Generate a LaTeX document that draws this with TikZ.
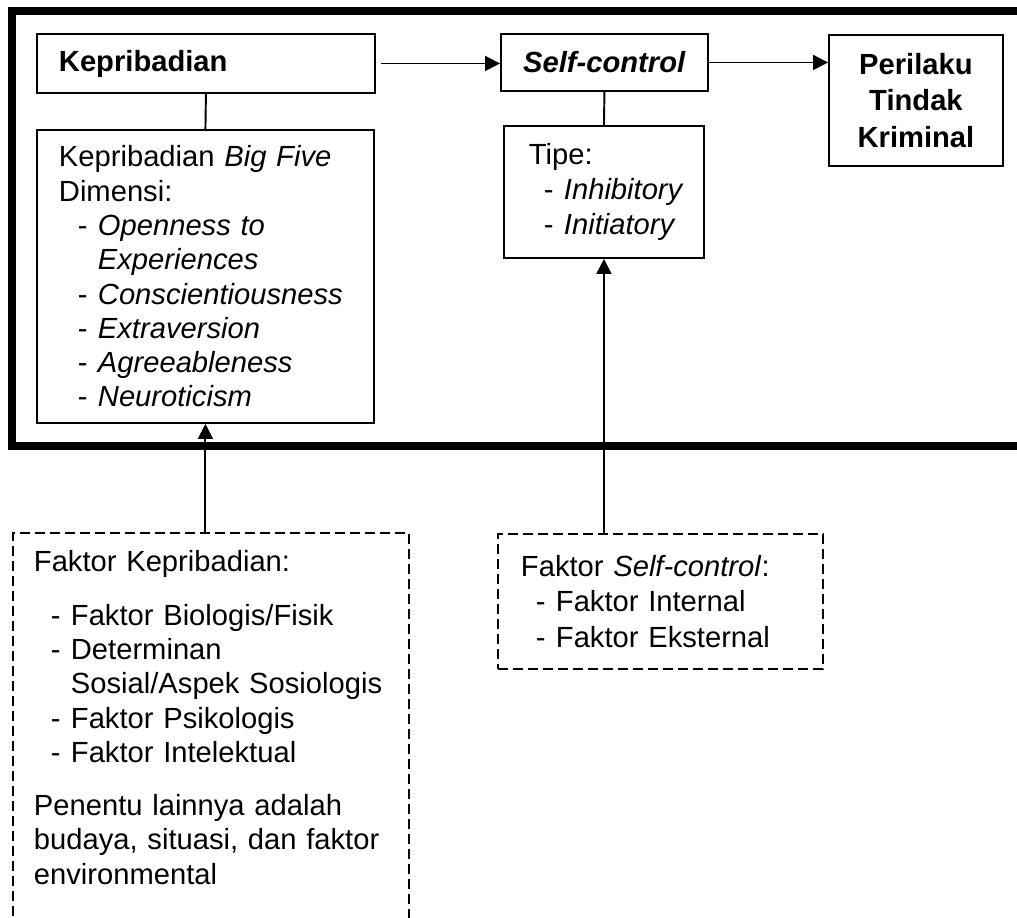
\documentclass[tikz,border=0pt]{standalone}
\usepackage{fontspec}
\setmainfont{Liberation Sans}
\usetikzlibrary{arrows.meta}

\newcommand{\itemdash}{\makebox[0.4cm][l]{-}}

\begin{document}
\begin{tikzpicture}[
x=0.02cm, y=-0.02cm,
font=\fontsize{16.6}{19.5}\selectfont,
box/.style ={draw, line width=1.1pt, anchor=north west, align=left, inner ysep=0pt},
dashbox/.style ={box, dash pattern=on 0.2cm off 0.1cm},
link/.style ={line width=1.1pt},
arr/.style ={line width=1.1pt, -{Triangle[length=0.3cm,width=0.3cm]}},
frame/.style ={line width=0.17cm}
]
\useasboundingbox (0,0) rectangle (1017,917);

% thick frame, open to the right
\draw[frame] (1040,11) -- (12,11) -- (12,446) -- (1040,446);

\node[box, text width=5.88cm, inner xsep=0.44cm, minimum height=1.18cm] (kep) at (36,33) {\textbf{Kepribadian}};
\node[box, text width=5.86cm, inner xsep=0.44cm, minimum height=5.86cm] (bigfive) at (36,129)
	{Kepribadian \textit{Big Five}\\
	Dimensi:\\
	\hspace*{0.38cm}\itemdash\textit{Openness to}\\
	\hspace*{0.78cm}\textit{Experiences}\\
	\hspace*{0.38cm}\itemdash\textit{Conscientiousness}\\
	\hspace*{0.38cm}\itemdash\textit{Extraversion}\\
	\hspace*{0.38cm}\itemdash\textit{Agreeableness}\\
	\hspace*{0.38cm}\itemdash\textit{Neuroticism}};

\node[box, align=center, text width=3.74cm, inner xsep=0.2cm, minimum height=1.14cm] (selfc) at (500,33) {\textbf{\textit{Self-control}}};
\node[box, align=center, text width=3.08cm, inner xsep=0.2cm, minimum height=2.62cm,
	font=\fontsize{16.6}{20.6}\selectfont\bfseries] (perilaku) at (828,34)
	{Perilaku\\ Tindak\\ Kriminal};
\node[box, text width=3.0cm, inner xsep=0.5cm, minimum height=2.64cm,
	font=\fontsize{16.6}{20.2}\selectfont] (tipe) at (503,125)
	{Tipe:\\
	\hspace*{0.3cm}\itemdash\textit{Inhibitory}\\
	\hspace*{0.3cm}\itemdash\textit{Initiatory}};

\node[dashbox, text width=7.08cm, inner xsep=0.42cm, inner ysep=0.34cm, text depth=8cm] (faktorkep) at (12,532)
	{Faktor Kepribadian:\\[0.4cm]
	\hspace*{0.34cm}\itemdash Faktor Biologis/Fisik\\
	\hspace*{0.34cm}\itemdash Determinan\\
	\hspace*{0.74cm}Sosial/Aspek Sosiologis\\
	\hspace*{0.34cm}\itemdash Faktor Psikologis\\
	\hspace*{0.34cm}\itemdash Faktor Intelektual\\[0.38cm]
	Penentu lainnya adalah\\
	budaya, situasi, dan faktor\\
	environmental};
\node[dashbox, text width=5.58cm, inner xsep=0.46cm, minimum height=2.7cm,
	font=\fontsize{16.6}{20.4}\selectfont] (faktorsc) at (497,533)
	{Faktor \textit{Self-control}:\\
	\hspace*{0.3cm}\itemdash Faktor Internal\\
	\hspace*{0.3cm}\itemdash Faktor Eksternal};

\draw[link] (kep.south) -- (bigfive.north);
\draw[link] (selfc.south) -- (tipe.north);
\draw[arr, shorten <=0.1cm] (kep.east) -- (kep.east -| selfc.west);
\draw[arr] (selfc.east) -- (selfc.east -| perilaku.west);
\draw[arr] (faktorkep.north -| bigfive.south) -- (bigfive.south);
\draw[arr] (faktorsc.north -| tipe.south) -- (tipe.south);
\end{tikzpicture}
\end{document}
